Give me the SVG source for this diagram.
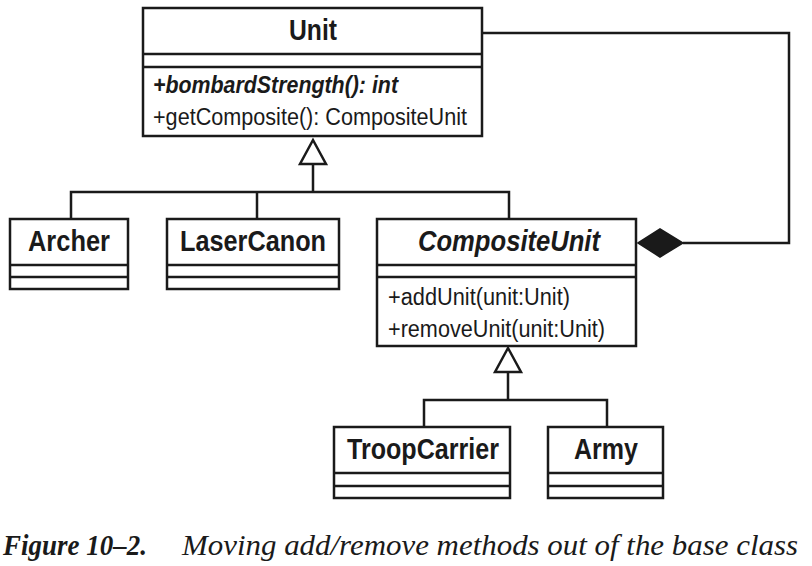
<svg xmlns="http://www.w3.org/2000/svg" width="812" height="566" viewBox="0 0 812 566">
<style>
.box{fill:#fff;stroke:#1a1a1a;stroke-width:2.5}
.ln{fill:none;stroke:#1a1a1a;stroke-width:2.5}
.t{font-family:"Liberation Sans",Arial,sans-serif;fill:#1a1a1a}
.nm{font-size:29px;font-weight:bold;text-anchor:start}
.op{font-size:23px}
.cap{font-family:"Liberation Serif","Times New Roman",serif;font-style:italic;font-size:30px;fill:#1a1a1a}
</style>
<g id="connectors">
<path class="ln" d="M313 163 V192 M71 219 V192 H509 V219 M257 192 V219"/>
<polygon class="box" points="313,140 300,164 326,164"/>
<path class="ln" d="M508 371 V400 M424 427 V400 H607 V427"/>
<polygon class="box" points="508,348 495,372 521,372"/>
<path class="ln" d="M482 33 H789 V243 H683"/>
<polygon points="638,243 660,229 683,243 660,257" fill="#1a1a1a" stroke="#1a1a1a" stroke-width="1.5"/>
</g>
<g id="Unit">
<rect class="box" x="143" y="8" width="339" height="128"/>
<path class="ln" d="M143 54 H482 M143 67 H482"/>
<text class="t nm" x="289" y="40" textLength="48" lengthAdjust="spacingAndGlyphs">Unit</text>
<text class="t op" x="153" y="93" font-weight="bold" font-style="italic" textLength="245" lengthAdjust="spacingAndGlyphs">+bombardStrength(): int</text>
<text class="t op" x="153" y="125" textLength="314" lengthAdjust="spacingAndGlyphs">+getComposite(): CompositeUnit</text>
</g>
<g id="Archer">
<rect class="box" x="10" y="219" width="118" height="70"/>
<path class="ln" d="M10 265 H128 M10 277 H128"/>
<text class="t nm" x="28" y="251" textLength="82" lengthAdjust="spacingAndGlyphs">Archer</text>
</g>
<g id="LaserCanon">
<rect class="box" x="167" y="219" width="172" height="70"/>
<path class="ln" d="M167 265 H339 M167 277 H339"/>
<text class="t nm" x="180" y="251" textLength="146" lengthAdjust="spacingAndGlyphs">LaserCanon</text>
</g>
<g id="CompositeUnit">
<rect class="box" x="377" y="219" width="259" height="127"/>
<path class="ln" d="M377 265 H636 M377 277 H636"/>
<text class="t nm" x="418" y="251" font-style="italic" textLength="182" lengthAdjust="spacingAndGlyphs">CompositeUnit</text>
<text class="t op" x="388" y="305" textLength="182" lengthAdjust="spacingAndGlyphs">+addUnit(unit:Unit)</text>
<text class="t op" x="388" y="337" textLength="217" lengthAdjust="spacingAndGlyphs">+removeUnit(unit:Unit)</text>
</g>
<g id="TroopCarrier">
<rect class="box" x="334" y="427" width="176" height="71"/>
<path class="ln" d="M334 473 H510 M334 486 H510"/>
<text class="t nm" x="347" y="459" textLength="152" lengthAdjust="spacingAndGlyphs">TroopCarrier</text>
</g>
<g id="Army">
<rect class="box" x="548" y="427" width="115" height="71"/>
<path class="ln" d="M548 473 H663 M548 486 H663"/>
<text class="t nm" x="574" y="459" textLength="64" lengthAdjust="spacingAndGlyphs">Army</text>
</g>
<g id="caption">
<text class="cap" x="3" y="555" font-weight="bold" textLength="144" lengthAdjust="spacingAndGlyphs">Figure 10–2.</text>
<text class="cap" x="182" y="555" textLength="616" lengthAdjust="spacingAndGlyphs">Moving add/remove methods out of the base class</text>
</g>
</svg>
